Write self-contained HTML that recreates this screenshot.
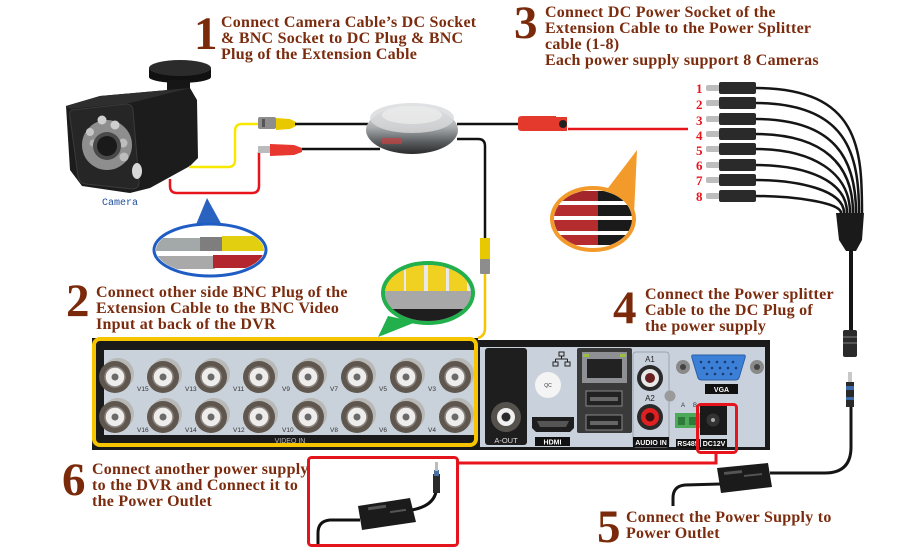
<!DOCTYPE html>
<html><head><meta charset="utf-8"><style>
html,body{margin:0;padding:0;background:#fff;}
svg{display:block;}
.t{font-family:"Liberation Serif",serif;font-weight:bold;font-size:16px;fill:#7b2c0e;letter-spacing:0.25px;}
.n{font-family:"Liberation Serif",serif;font-weight:bold;font-size:47px;fill:#7a2a0a;}
.r{font-family:"Liberation Serif",serif;font-weight:bold;font-size:13px;fill:#e8141c;}
.lb{font-family:"Liberation Sans",sans-serif;font-weight:bold;font-size:7px;fill:#fff;}
.vl{font-family:"Liberation Sans",sans-serif;font-size:6.5px;fill:#333;}
</style></head><body>
<svg width="900" height="548" viewBox="0 0 900 548" xmlns="http://www.w3.org/2000/svg">
<defs>
<linearGradient id="reel" x1="0" y1="0" x2="0" y2="1">
<stop offset="0" stop-color="#f2f2f2"/><stop offset="0.45" stop-color="#a8abae"/><stop offset="0.75" stop-color="#5a5d60"/><stop offset="1" stop-color="#2a2a2a"/></linearGradient>
<clipPath id="cg"><ellipse cx="428" cy="293" rx="43" ry="28"/></clipPath>
<clipPath id="co"><ellipse cx="593" cy="219" rx="39" ry="29"/></clipPath>
<clipPath id="cb"><ellipse cx="210" cy="250" rx="54" ry="24"/></clipPath>
</defs>
<rect width="900" height="548" fill="#fff"/>

<!-- Step texts -->
<text class="n" x="194" y="49">1</text>
<text class="t" x="221" y="27">Connect Camera Cable’s DC Socket</text>
<text class="t" x="221" y="43">&amp; BNC Socket to DC Plug &amp; BNC</text>
<text class="t" x="221" y="59">Plug of the Extension Cable</text>

<text class="n" x="514" y="38">3</text>
<text class="t" x="545" y="17">Connect DC Power Socket of the</text>
<text class="t" x="545" y="33">Extension Cable to the Power Splitter</text>
<text class="t" x="545" y="49">cable (1-8)</text>
<text class="t" x="545" y="65">Each power supply support 8 Cameras</text>

<text class="n" x="66" y="316">2</text>
<text class="t" x="96" y="297">Connect other side BNC Plug of the</text>
<text class="t" x="96" y="313">Extension Cable to the BNC Video</text>
<text class="t" x="96" y="329">Input at back of the DVR</text>

<text class="n" x="613" y="323">4</text>
<text class="t" x="645" y="299">Connect the Power splitter</text>
<text class="t" x="645" y="315">Cable to the DC Plug of</text>
<text class="t" x="645" y="331">the power supply</text>

<text class="n" x="62" y="495">6</text>
<text class="t" x="92" y="474">Connect another power supply</text>
<text class="t" x="92" y="490">to the DVR and Connect it to</text>
<text class="t" x="92" y="506">the Power Outlet</text>

<text class="n" x="597" y="542">5</text>
<text class="t" x="626" y="522">Connect the Power Supply to</text>
<text class="t" x="626" y="538">Power Outlet</text>

<!-- Camera -->
<rect x="149" y="68" width="62" height="9" fill="#111"/>
<ellipse cx="180" cy="77" rx="31" ry="6" fill="#111"/>
<ellipse cx="180" cy="68" rx="31" ry="8" fill="#2b2b2b"/>
<rect x="167" y="80" width="23" height="22" fill="#161616"/>
<polygon points="66,106 100,96 190,88 197,100 198,158 190,166 150,188 130,193 82,186 70,170" fill="#1c1c1c"/>
<polygon points="66,106 100,96 190,88 130,103 70,109" fill="#2e2e2e"/>
<path d="M72,110 L126,104 Q132,104 133,110 L139,182 Q139,189 132,189 L86,184 Q79,183 78,176 L70,117 Q69,111 72,110 Z" fill="#262626" stroke="#3a3a3a"/>
<circle cx="107" cy="145" r="25" fill="#8e8e8e"/>
<circle cx="102" cy="120" r="4.5" fill="#cfcfcf"/>
<circle cx="115" cy="125" r="4.5" fill="#cfcfcf"/>
<circle cx="123" cy="143" r="4.5" fill="#bdbdbd"/>
<circle cx="124" cy="157" r="4.5" fill="#bdbdbd"/>
<circle cx="90" cy="132" r="4" fill="#c6c6c6"/>
<circle cx="93" cy="143" r="3.5" fill="#b5b5b5"/>
<circle cx="107" cy="146" r="14" fill="#4a4a4a"/>
<circle cx="107" cy="146" r="10" fill="#1a1a1a"/>
<ellipse cx="137" cy="171" rx="5" ry="8" fill="#d8d8d8"/>
<text x="102" y="205" font-family="Liberation Mono, monospace" font-size="10" fill="#1f4ea0">Camera</text>

<!-- camera cables -->
<path d="M189,167 L228,167 Q235,167 235,160 L235,131 Q235,124 242,124 L258,124" fill="none" stroke="#f8e800" stroke-width="2.5"/>
<path d="M170,179 L170,186 Q170,193 177,193 L252,193 Q259,193 259,186 L259,152" fill="none" stroke="#e8141c" stroke-width="2.5"/>
<rect x="258" y="117" width="18" height="12" rx="2" fill="#8d8d8d"/>
<rect x="262" y="119" width="3" height="8" fill="#555"/>
<path d="M276,118 L290,119 L296,122 L296,126 L290,129 L276,130 Z" fill="#e8c800"/>
<line x1="295" y1="124" x2="368" y2="124" stroke="#111" stroke-width="2.5"/>
<rect x="258" y="146" width="12" height="7" fill="#bbb"/>
<path d="M270,144 L294,145 L302,148 L302,152 L294,155 L270,156 Z" fill="#e8372f"/>
<line x1="302" y1="149" x2="380" y2="149" stroke="#111" stroke-width="2.5"/>

<!-- reel -->
<ellipse cx="412" cy="130" rx="46" ry="24" fill="url(#reel)"/>
<ellipse cx="412" cy="118" rx="42" ry="15" fill="#d8dadb" opacity="0.8"/>
<ellipse cx="412" cy="115" rx="30" ry="9" fill="#eeeeee" opacity="0.7"/>
<rect x="382" y="138" width="20" height="6" fill="#c84040" opacity="0.7"/>
<line x1="457" y1="124" x2="518" y2="124" stroke="#111" stroke-width="2.5"/>
<path d="M457,139 L478,139 Q485,139 485,146 L485,238" fill="none" stroke="#111" stroke-width="2.5"/>
<path d="M480,238 L490,238 L490,260 L480,260 Z" fill="#e8c800"/>
<rect x="480" y="259" width="10" height="15" rx="1" fill="#8d8d8d"/>
<path d="M485,274 L485,328 Q485,336 478,338" fill="none" stroke="#f6c500" stroke-width="2.5"/>

<!-- DC socket + red line -->
<path d="M518,119 Q518,116 522,116 L556,116 L556,131 L522,131 Q518,131 518,128 Z" fill="#e33a2d"/>
<rect x="556" y="117" width="11" height="14" fill="#e33a2d"/>
<circle cx="563" cy="124" r="4" fill="#222"/>
<line x1="568" y1="129" x2="688" y2="129" stroke="#e8141c" stroke-width="2.5"/>

<!-- blue callout -->
<polygon points="207,198 195,227 223,227" fill="#2a62c0"/>
<ellipse cx="210" cy="250" rx="56" ry="26" fill="#fff" stroke="#1f5dc4" stroke-width="3"/>
<g clip-path="url(#cb)">
<rect x="150" y="238" width="52" height="13" fill="#a3a8a8"/>
<rect x="200" y="237" width="22" height="14" fill="#7e7e7e"/>
<rect x="222" y="236" width="42" height="15" fill="#e2cf10"/>
<rect x="150" y="256" width="65" height="13" fill="#a9a9a9"/>
<rect x="213" y="255" width="52" height="13" fill="#b3262d"/>
</g>

<!-- orange callout -->
<polygon points="605,192 634,214 637,150" fill="#f29a2a"/>
<ellipse cx="593" cy="219" rx="41" ry="31" fill="#fff" stroke="#f29a2a" stroke-width="4"/>
<g clip-path="url(#co)">
<rect x="550" y="191" width="48" height="10" fill="#a3262a"/>
<rect x="598" y="191" width="40" height="10" fill="#1a1a1a"/>
<rect x="550" y="205" width="48" height="11" fill="#b52c2e"/>
<rect x="598" y="205" width="40" height="11" fill="#1a1a1a"/>
<rect x="550" y="220" width="48" height="11" fill="#b52c2e"/>
<rect x="598" y="220" width="40" height="11" fill="#1a1a1a"/>
<rect x="550" y="235" width="48" height="10" fill="#b52c2e"/>
<rect x="598" y="235" width="40" height="10" fill="#1a1a1a"/>
</g>

<!-- green callout -->
<polygon points="388,316 416,322 378,337" fill="#21b04b"/>
<ellipse cx="428" cy="293" rx="45" ry="30" fill="#333" stroke="#21b04b" stroke-width="4"/>
<g clip-path="url(#cg)">
<rect x="384" y="262" width="90" height="62" fill="#e8e8e8"/>
<rect x="386" y="265" width="18" height="26" fill="#f0d020"/>
<rect x="406" y="263" width="18" height="28" fill="#f0d020"/>
<rect x="428" y="263" width="18" height="28" fill="#f0d020"/>
<rect x="449" y="265" width="18" height="26" fill="#f0d020"/>
<rect x="384" y="291" width="90" height="18" fill="#a8a8a8"/>
<rect x="384" y="309" width="90" height="16" fill="#1e1e1e"/>
</g>

<!-- DVR left -->
<rect x="92" y="338" width="386" height="112" fill="#1a1a1a"/>
<rect x="104" y="350" width="374" height="85" fill="#c9d1db"/>
<text x="290" y="443" font-family="Liberation Sans,sans-serif" font-size="7" fill="#b8b8b8" text-anchor="middle">VIDEO IN</text>
<g id="bncs">
<g transform="translate(115,377)"><circle cx="3" cy="-3" r="16" fill="#b8b8b6"/><circle r="16" fill="#5f564e"/><circle r="10" fill="#efedeb" stroke="#8a8480" stroke-width="1.5"/><circle r="3.5" fill="#6a6a6a"/></g>
<g transform="translate(163,377)"><circle cx="3" cy="-3" r="16" fill="#b8b8b6"/><circle r="16" fill="#5f564e"/><circle r="10" fill="#efedeb" stroke="#8a8480" stroke-width="1.5"/><circle r="3.5" fill="#6a6a6a"/></g>
<g transform="translate(211,377)"><circle cx="3" cy="-3" r="16" fill="#b8b8b6"/><circle r="16" fill="#5f564e"/><circle r="10" fill="#efedeb" stroke="#8a8480" stroke-width="1.5"/><circle r="3.5" fill="#6a6a6a"/></g>
<g transform="translate(259,377)"><circle cx="3" cy="-3" r="16" fill="#b8b8b6"/><circle r="16" fill="#5f564e"/><circle r="10" fill="#efedeb" stroke="#8a8480" stroke-width="1.5"/><circle r="3.5" fill="#6a6a6a"/></g>
<g transform="translate(308,377)"><circle cx="3" cy="-3" r="16" fill="#b8b8b6"/><circle r="16" fill="#5f564e"/><circle r="10" fill="#efedeb" stroke="#8a8480" stroke-width="1.5"/><circle r="3.5" fill="#6a6a6a"/></g>
<g transform="translate(357,377)"><circle cx="3" cy="-3" r="16" fill="#b8b8b6"/><circle r="16" fill="#5f564e"/><circle r="10" fill="#efedeb" stroke="#8a8480" stroke-width="1.5"/><circle r="3.5" fill="#6a6a6a"/></g>
<g transform="translate(406,377)"><circle cx="3" cy="-3" r="16" fill="#b8b8b6"/><circle r="16" fill="#5f564e"/><circle r="10" fill="#efedeb" stroke="#8a8480" stroke-width="1.5"/><circle r="3.5" fill="#6a6a6a"/></g>
<g transform="translate(455,377)"><circle cx="3" cy="-3" r="16" fill="#b8b8b6"/><circle r="16" fill="#5f564e"/><circle r="10" fill="#efedeb" stroke="#8a8480" stroke-width="1.5"/><circle r="3.5" fill="#6a6a6a"/></g>
<g transform="translate(115,417)"><circle cx="3" cy="-3" r="16" fill="#b8b8b6"/><circle r="16" fill="#5f564e"/><circle r="10" fill="#efedeb" stroke="#8a8480" stroke-width="1.5"/><circle r="3.5" fill="#6a6a6a"/></g>
<g transform="translate(163,417)"><circle cx="3" cy="-3" r="16" fill="#b8b8b6"/><circle r="16" fill="#5f564e"/><circle r="10" fill="#efedeb" stroke="#8a8480" stroke-width="1.5"/><circle r="3.5" fill="#6a6a6a"/></g>
<g transform="translate(211,417)"><circle cx="3" cy="-3" r="16" fill="#b8b8b6"/><circle r="16" fill="#5f564e"/><circle r="10" fill="#efedeb" stroke="#8a8480" stroke-width="1.5"/><circle r="3.5" fill="#6a6a6a"/></g>
<g transform="translate(259,417)"><circle cx="3" cy="-3" r="16" fill="#b8b8b6"/><circle r="16" fill="#5f564e"/><circle r="10" fill="#efedeb" stroke="#8a8480" stroke-width="1.5"/><circle r="3.5" fill="#6a6a6a"/></g>
<g transform="translate(308,417)"><circle cx="3" cy="-3" r="16" fill="#b8b8b6"/><circle r="16" fill="#5f564e"/><circle r="10" fill="#efedeb" stroke="#8a8480" stroke-width="1.5"/><circle r="3.5" fill="#6a6a6a"/></g>
<g transform="translate(357,417)"><circle cx="3" cy="-3" r="16" fill="#b8b8b6"/><circle r="16" fill="#5f564e"/><circle r="10" fill="#efedeb" stroke="#8a8480" stroke-width="1.5"/><circle r="3.5" fill="#6a6a6a"/></g>
<g transform="translate(406,417)"><circle cx="3" cy="-3" r="16" fill="#b8b8b6"/><circle r="16" fill="#5f564e"/><circle r="10" fill="#efedeb" stroke="#8a8480" stroke-width="1.5"/><circle r="3.5" fill="#6a6a6a"/></g>
<g transform="translate(455,417)"><circle cx="3" cy="-3" r="16" fill="#b8b8b6"/><circle r="16" fill="#5f564e"/><circle r="10" fill="#efedeb" stroke="#8a8480" stroke-width="1.5"/><circle r="3.5" fill="#6a6a6a"/></g>
</g>
<text class="vl" x="137" y="391">V15</text><text class="vl" x="185" y="391">V13</text><text class="vl" x="233" y="391">V11</text><text class="vl" x="282" y="391">V9</text><text class="vl" x="330" y="391">V7</text><text class="vl" x="379" y="391">V5</text><text class="vl" x="428" y="391">V3</text>
<text class="vl" x="137" y="432">V16</text><text class="vl" x="185" y="432">V14</text><text class="vl" x="233" y="432">V12</text><text class="vl" x="282" y="432">V10</text><text class="vl" x="330" y="432">V8</text><text class="vl" x="379" y="432">V6</text><text class="vl" x="428" y="432">V4</text>
<rect x="94" y="339" width="382" height="106" rx="6" fill="none" stroke="#f6c500" stroke-width="4"/>

<!-- DVR right -->
<rect x="478" y="340" width="292" height="110" fill="#1a1a1a"/>
<rect x="480" y="347" width="285" height="100" fill="#c9d2dc"/>
<rect x="485" y="348" width="42" height="97" rx="3" fill="#1e1e1e"/>
<circle cx="506" cy="417" r="15" fill="#55524e"/>
<circle cx="506" cy="417" r="9" fill="#f0f0f0"/>
<circle cx="506" cy="417" r="4.5" fill="#2a2a2a"/>
<text x="506" y="443" font-family="Liberation Sans,sans-serif" font-size="7.5" fill="#ddd" text-anchor="middle">A-OUT</text>
<g stroke="#222" stroke-width="1" fill="none"><rect x="559" y="352" width="5" height="4"/><rect x="553" y="362" width="5" height="4"/><rect x="565" y="362" width="5" height="4"/><path d="M561.5,356 V359 M555.5,359 H567.5 M555.5,359 V362 M567.5,359 V362"/></g>
<circle cx="548" cy="385" r="13" fill="#f4f4f4"/>
<text x="548" y="387" font-family="Liberation Sans,sans-serif" font-size="5" fill="#333" text-anchor="middle">QC</text>
<path d="M532,417 L574,417 L574,428 L570,432 L536,432 L532,428 Z" fill="#1e1e1e"/>
<path d="M537,421 L569,421 L566,427 L540,427 Z" fill="#555"/>
<rect x="535" y="437" width="35" height="9" fill="#111"/>
<text class="lb" x="552.5" y="444.5" text-anchor="middle" font-size="8">HDMI</text>
<rect x="577" y="348" width="55" height="85" rx="2" fill="#3a3a3a"/>
<rect x="582" y="352" width="45" height="31" fill="#8e9094"/>
<rect x="587" y="359" width="35" height="19" fill="#222"/>
<rect x="583" y="354" width="6" height="3" fill="#9bc040"/><rect x="620" y="354" width="6" height="3" fill="#9bc040"/>
<rect x="586" y="391" width="36" height="15" fill="#222" stroke="#888"/>
<rect x="590" y="397" width="28" height="4" fill="#666"/>
<rect x="586" y="415" width="36" height="15" fill="#222" stroke="#888"/>
<rect x="590" y="421" width="28" height="4" fill="#666"/>
<rect x="633" y="352" width="36" height="95" rx="3" fill="none" stroke="#9aa2ac" stroke-width="1"/>
<text x="650" y="362" font-family="Liberation Sans,sans-serif" font-size="8" fill="#222" text-anchor="middle">A1</text>
<circle cx="650" cy="378" r="13" fill="#2a2a2a"/><circle cx="650" cy="378" r="9" fill="#e8e8e8"/><circle cx="650" cy="378" r="5" fill="#6a2020"/>
<text x="650" y="401" font-family="Liberation Sans,sans-serif" font-size="8" fill="#222" text-anchor="middle">A2</text>
<circle cx="650" cy="417" r="13" fill="#2a2a2a"/><circle cx="650" cy="417" r="9" fill="#e02020"/><circle cx="650" cy="417" r="4.5" fill="#3a1010"/>
<rect x="633" y="437" width="36" height="10" fill="#111"/>
<text class="lb" x="651" y="445" text-anchor="middle">AUDIO IN</text>
<circle cx="670" cy="396" r="5.5" fill="#9a9a9a"/>
<text x="681" y="407" font-family="Liberation Sans,sans-serif" font-size="6" fill="#333">A</text>
<text x="693" y="407" font-family="Liberation Sans,sans-serif" font-size="6" fill="#333">B</text>
<rect x="675" y="413" width="25" height="15" fill="#4caa58"/>
<rect x="678" y="417" width="7" height="8" fill="#2e7a3a"/><rect x="689" y="417" width="7" height="8" fill="#2e7a3a"/>
<rect x="676" y="439" width="24" height="9" fill="#111"/>
<text class="lb" x="688" y="446" text-anchor="middle">RS485</text>
<rect x="700" y="405" width="27" height="30" fill="#1a1a1a"/>
<circle cx="713" cy="420" r="6.5" fill="#333"/><circle cx="713" cy="420" r="2" fill="#aaa"/>
<rect x="701" y="439" width="26" height="9" fill="#111"/>
<text class="lb" x="714" y="446" text-anchor="middle">DC12V</text>
<circle cx="683" cy="367" r="7" fill="#8a8a8a"/><circle cx="683" cy="367" r="3" fill="#444"/>
<circle cx="757" cy="367" r="7" fill="#8a8a8a"/><circle cx="757" cy="367" r="3" fill="#444"/>
<path d="M693,355 L744,355 Q746,355 745,358 L739,378 Q738,380 735,380 L702,380 Q699,380 698,378 L692,358 Q691,355 693,355 Z" fill="#3c7fd6" stroke="#2a5fa8"/>
<g fill="#1a3a70"><circle cx="701" cy="362" r="1.3"/><circle cx="709" cy="362" r="1.3"/><circle cx="717" cy="362" r="1.3"/><circle cx="725" cy="362" r="1.3"/><circle cx="733" cy="362" r="1.3"/><circle cx="704" cy="368" r="1.3"/><circle cx="712" cy="368" r="1.3"/><circle cx="720" cy="368" r="1.3"/><circle cx="728" cy="368" r="1.3"/><circle cx="736" cy="368" r="1.3"/><circle cx="707" cy="374" r="1.3"/><circle cx="715" cy="374" r="1.3"/><circle cx="723" cy="374" r="1.3"/><circle cx="731" cy="374" r="1.3"/></g>
<rect x="705" y="384" width="33" height="10" fill="#111"/>
<text class="lb" x="721.5" y="392" text-anchor="middle" font-size="8">VGA</text>
<rect x="697.5" y="404.5" width="39" height="48" rx="3" fill="none" stroke="#e8141c" stroke-width="3"/>

<!-- red line and box 6 -->
<path d="M716,453 L716,463 L458,463" fill="none" stroke="#e8141c" stroke-width="3"/>
<rect x="308.5" y="457.5" width="149" height="88" rx="3" fill="none" stroke="#e3141c" stroke-width="3"/>
<path d="M360,520 L330,520 Q318,521 318,533 L318,544" fill="none" stroke="#111" stroke-width="3"/>
<path d="M412,510 Q433,506 436,492" fill="none" stroke="#111" stroke-width="3"/>
<polygon points="358,506 410,498 416,522 362,530" fill="#1b1b1b"/>
<rect x="368" y="506" width="18" height="3" fill="#555" transform="rotate(-8 377 507)"/>
<rect x="390" y="510" width="16" height="2" fill="#555" transform="rotate(-8 398 511)"/>
<rect x="433" y="474" width="7" height="19" fill="#2a2a2a"/>
<rect x="434" y="470" width="5" height="6" fill="#4a6ea0"/>
<rect x="435" y="462" width="3" height="9" fill="#bbb"/>

<!-- splitter -->
<g fill="none" stroke="#151515" stroke-width="2.5">
<path d="M755,88 C860,88 862,150 862,213"/>
<path d="M755,103 C848,103 859,155 859,213"/>
<path d="M755,119 C836,119 856,160 856,213"/>
<path d="M755,134 C824,134 853,165 853,213"/>
<path d="M755,149 C812,149 850,172 850,213"/>
<path d="M755,165 C805,165 847,180 847,213"/>
<path d="M755,180 C798,180 844,190 844,213"/>
<path d="M755,196 C790,196 841,202 841,213"/>
</g>
<g>
<text class="r" x="696" y="93">1</text><text class="r" x="696" y="109">2</text><text class="r" x="696" y="125">3</text><text class="r" x="696" y="140">4</text><text class="r" x="696" y="155">5</text><text class="r" x="696" y="170">6</text><text class="r" x="696" y="185">7</text><text class="r" x="696" y="201">8</text>
</g>
<g fill="#bdbdbd">
<rect x="706" y="85" width="14" height="6" rx="2"/><rect x="706" y="100" width="14" height="6" rx="2"/><rect x="706" y="116" width="14" height="6" rx="2"/><rect x="706" y="131" width="14" height="6" rx="2"/><rect x="706" y="146" width="14" height="6" rx="2"/><rect x="706" y="162" width="14" height="6" rx="2"/><rect x="706" y="177" width="14" height="6" rx="2"/><rect x="706" y="193" width="14" height="6" rx="2"/>
</g>
<g fill="#2a2a2a">
<rect x="719" y="82" width="37" height="12" rx="2"/><rect x="719" y="97" width="37" height="12" rx="2"/><rect x="719" y="113" width="37" height="12" rx="2"/><rect x="719" y="128" width="37" height="12" rx="2"/><rect x="719" y="143" width="37" height="12" rx="2"/><rect x="719" y="159" width="37" height="12" rx="2"/><rect x="719" y="174" width="37" height="12" rx="2"/><rect x="719" y="190" width="37" height="12" rx="2"/>
</g>
<path d="M836,213 L864,213 L862,240 L856,251 L846,251 L839,240 Z" fill="#1a1a1a"/>
<line x1="851" y1="250" x2="851" y2="331" stroke="#151515" stroke-width="4"/>
<rect x="843" y="330" width="14" height="27" rx="2" fill="#2a2a2a"/>
<rect x="843" y="336" width="14" height="2" fill="#555"/><rect x="843" y="342" width="14" height="2" fill="#555"/>
<rect x="848" y="372" width="4" height="11" fill="#c8c8c8"/>
<rect x="846" y="382" width="8" height="25" fill="#2a2a2a"/>
<rect x="846" y="386" width="8" height="4" fill="#3a6aa8"/><rect x="846" y="397" width="8" height="3" fill="#3a6aa8"/>
<path d="M851,407 L851,447 Q851,473 825,473 L770,473" fill="none" stroke="#151515" stroke-width="3"/>
<path d="M720,484 L685,485 Q673,486 673,498 L673,506" fill="none" stroke="#151515" stroke-width="3"/>
<polygon points="717,468 768,463 772,487 721,493" fill="#1b1b1b"/>
<rect x="724" y="471" width="18" height="3" fill="#555" transform="rotate(-6 733 472)"/>
<rect x="744" y="474" width="18" height="2" fill="#555" transform="rotate(-6 753 475)"/>
</svg>
</body></html>
